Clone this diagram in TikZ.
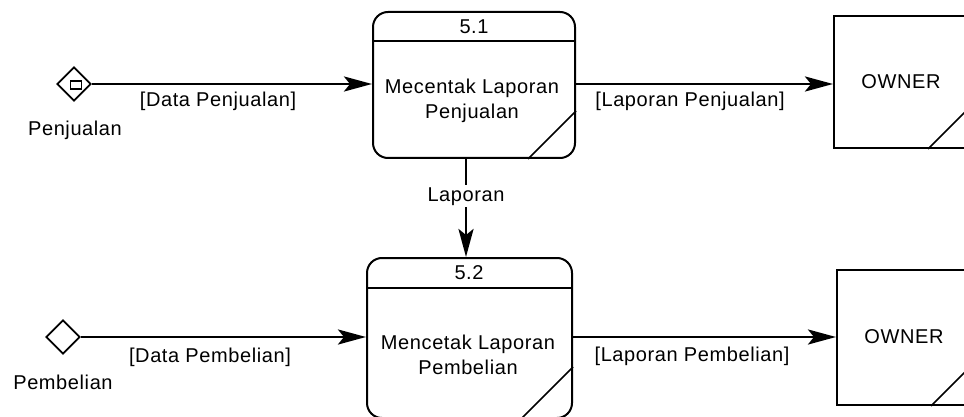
\documentclass[tikz,border=0pt]{standalone}
\usepackage{fontspec}
\setmainfont{Liberation Sans}[LetterSpace=3]
\usetikzlibrary{arrows.meta,shapes.geometric}
\begin{document}
\begin{tikzpicture}[x=1pt,y=-1pt,
  every node/.style={font=\fontsize{20pt}{25pt}\selectfont, align=center},
  proc/.style={draw, line width=2pt, rounded corners=15pt, inner sep=0pt},
  store/.style={draw, line width=2pt, inner sep=0pt},
  ent/.style={draw, line width=1.8pt, diamond, minimum width=34pt, minimum height=34pt, inner sep=0pt, aspect=1},
  flow/.style={line width=2.8pt, -{Stealth[length=28pt,width=15pt,inset=6pt]}},
  thin/.style={line width=1.6pt},
  lbl/.style={fill=white, inner sep=2pt}
]
\useasboundingbox (0,0) rectangle (964,417);
\clip (0,0) rectangle (964,417);

% processes
\node[proc, minimum width=202pt, minimum height=146pt] (p1) at (474,85) {};
\draw[line width=2pt] ([yshift=-30pt]p1.north west) -- ([yshift=-30pt]p1.north east);
\draw[thin] ([xshift=-48pt]p1.south east) -- ([yshift=48pt]p1.south east);
\node (h1) at (474,27) {5.1};
\node (t1) at (472,101) {Mecentak Laporan\\Penjualan};

\node[proc, minimum width=205pt, minimum height=160pt] (p2) at (469.5,338) {};
\draw[line width=2pt] ([yshift=-31pt]p2.north west) -- ([yshift=-31pt]p2.north east);
\draw[thin] ([xshift=-52pt]p2.south east) -- ([yshift=52pt]p2.south east);
\node (h2) at (469,273) {5.2};
\node (t2) at (468,355) {Mencetak Laporan\\Pembelian};

% stores
\node[store, minimum width=141pt, minimum height=132pt] (o1) at (904.5,82) {};
\draw[thin] ([xshift=-48pt]o1.south east) -- ([yshift=48pt]o1.south east);
\node (ot1) at (901,82) {OWNER};

\node[store, minimum width=141pt, minimum height=135pt] (o2) at (907.5,337.5) {};
\draw[thin] ([xshift=-48pt]o2.south east) -- ([yshift=48pt]o2.south east);
\node (ot2) at (904,337) {OWNER};

% entities
\node[ent] (d1) at (74,84) {};
\node[draw, line width=1.4pt, minimum width=11pt, minimum height=8pt, inner sep=0pt] (sq) at (76,85) {};
\node (n1) at (75,130) {Penjualan};

\node[ent] (d2) at (63,337) {};
\node (n2) at (63,382) {Pembelian};

% flows
\draw[flow] (d1.east) -- (d1.east -| p1.west);
\node (l1) at (218,101) {[Data Penjualan]};
\draw[flow] (p1.east |- d1.east) -- (p1.east |- d1.east -| o1.west);
\node (l2) at (690,101) {[Laporan Penjualan]};

\draw[flow] (d2.east) -- (d2.east -| p2.west);
\node (l3) at (210,357) {[Data Pembelian]};
\draw[flow] (p2.east |- d2.east) -- (p2.east |- d2.east -| o2.west);
\node (l4) at (692,356) {[Laporan Pembelian]};

\coordinate (vx) at (466,0);
\draw[flow] (p1.south -| vx) -- (p2.north -| vx) node[lbl, pos=0.38] (l5) {Laporan};
\end{tikzpicture}
\end{document}
